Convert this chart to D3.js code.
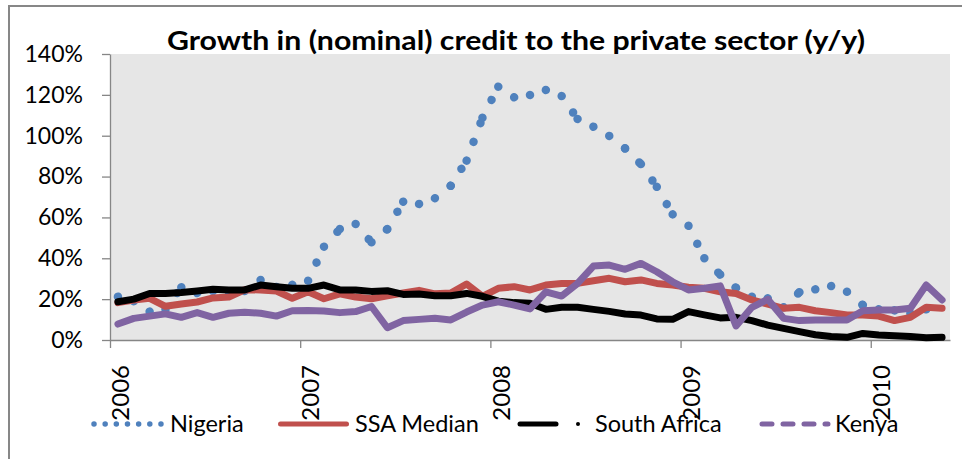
<!DOCTYPE html>
<html><head><meta charset="utf-8">
<script src="https://cdn.jsdelivr.net/npm/d3@7"></script>
<style>
body{margin:0;background:#fff}
svg{display:block}
</style>
</head><body>
<svg id="c" width="962" height="459"></svg>
<script>
// ---- data ----
const categories = [
 "2006-01","2006-02","2006-03","2006-04","2006-05","2006-06","2006-07","2006-08","2006-09","2006-10","2006-11","2006-12",
 "2007-01","2007-02","2007-03","2007-04","2007-05","2007-06","2007-07","2007-08","2007-09","2007-10","2007-11","2007-12",
 "2008-01","2008-02","2008-03","2008-04","2008-05","2008-06","2008-07","2008-08","2008-09","2008-10","2008-11","2008-12",
 "2009-01","2009-02","2009-03","2009-04","2009-05","2009-06","2009-07","2009-08","2009-09","2009-10","2009-11","2009-12",
 "2010-01","2010-02","2010-03","2010-04","2010-05"];
const yearLabels = ["2006","2007","2008","2009","2010"];
const yTicks = [0,20,40,60,80,100,120,140];
const seriesNames = ["Nigeria","SSA Median","South Africa","Kenya"];

const nigeria = [21.2,19,13.9,15,25.8,23,24,22,24,29.4,26,27,
 29,45.7,54.3,56.8,47.8,54.3,67.7,66.6,69.4,75.5,87.8,108.8,
 124,118.8,119.9,122.4,119.4,108.2,104.4,99.9,93.8,86.1,75,61.5,
 55.9,40,32,25.5,21.2,20.4,16,23.4,24.8,26.4,23.6,17.1,
 15,14.5,13,15,16];
const ssaMedian = [18.3,19.6,20.4,16.5,17.6,18.6,20.6,21,24.6,24.5,24,20.4,
 23.6,20.2,22.6,21,20.2,21.6,23,24.3,22.6,23,27.4,21.4,
 25.3,26.1,24.5,26.9,27.7,27.7,29,30.2,28.5,29.4,27.7,26.9,
 25.8,25.3,23.6,22.8,19.6,17.6,15.5,16,14.3,13.4,12.2,12.2,
 11.7,9.5,11.1,16,15.5];
const southAfrica = [18.7,20,22.8,22.8,23.3,24,24.8,24.5,24.5,26.9,26.1,25.3,
 25.3,26.9,24.5,24.5,23.8,24.1,22.3,22.5,21.7,21.7,22.8,21.4,
 19,18.3,18,15,16,16,15,14,12.7,12.2,10.3,10.1,
 13.9,12.3,10.8,11.1,9.5,7.3,5.7,4.1,2.6,1.7,1.3,3.2,
 2.5,2.1,1.7,1.1,1.3];
const kenya = [7.8,10.6,11.7,12.8,11.1,13.4,11.1,13.1,13.6,13.1,11.7,14.3,
 14.5,14.2,13.4,13.9,16.4,6,9.5,10.1,10.6,9.8,13.7,17.1,
 18.7,17.1,15.2,23.6,21.5,27.7,36.2,36.7,34.6,37.5,33.4,28.5,
 24.5,25.3,26.5,6.9,16,19.9,10.6,9.5,9.8,9.8,9.8,14.3,
 14.7,14.7,15.5,26.9,19.6];

// ---- layout ----
const L = 110, R = 950, T = 54, B = 340;
const FONT = "Lato, 'Open Sans', sans-serif";
const colors = {nigeria:"#4F81BD", ssa:"#C0504D", sa:"#000000", kenya:"#8064A2"};
const svg = d3.select("#c");

// outer chart border
svg.append("rect").attr("x",9).attr("y",6).attr("width",1000).attr("height",500)
  .attr("fill","#fff").attr("stroke","#878787").attr("stroke-width",2);

// plot area
svg.append("rect").attr("x",L).attr("y",T).attr("width",R-L).attr("height",B-T).attr("fill","#E6E6E6");

const x = d3.scaleLinear().domain([0, categories.length]).range([L, R]);
const y = d3.scaleLinear().domain([0, 140]).range([B, T]);
const px = i => x(i + 0.5);

// y axis
const gy = svg.append("g").attr("transform",`translate(${L},0)`)
  .call(d3.axisLeft(y).tickValues(yTicks).tickSize(8).tickSizeOuter(0).tickPadding(19).tickFormat(d => d + "%"));
gy.attr("font-family", FONT).attr("font-size", 23);
gy.selectAll("path,line").attr("stroke","#868686").attr("stroke-width",1.3);
gy.selectAll("text").attr("fill","#000");

// x axis
const janIdx = categories.map((c,i)=>c.endsWith("-01") ? i : -1).filter(i=>i>=0);
const gx = svg.append("g").attr("transform",`translate(0,${B})`)
  .call(d3.axisBottom(x).tickValues(janIdx).tickSize(8).tickSizeOuter(0).tickFormat((d,i)=>yearLabels[i]));
gx.attr("font-family", FONT).attr("font-size", 24);
gx.selectAll("path,line").attr("stroke","#868686").attr("stroke-width",1.3);
gx.selectAll("text").attr("fill","#000").attr("x",0).attr("y",0).attr("dy","0.36em")
  .attr("text-anchor","end").attr("transform","translate(10,25) rotate(-90)");

// series
const line = d3.line().x((d,i)=>px(i)).y(d=>y(d));
const plot = svg.append("g");

// Nigeria: round-dot line, dash pattern restarting at each segment
const nPts = nigeria.map((v,i)=>[px(i), y(v)]);
plot.append("g").selectAll("line").data(d3.pairs(nPts)).join("line")
  .attr("x1",d=>d[0][0]).attr("y1",d=>d[0][1]).attr("x2",d=>d[1][0]).attr("y2",d=>d[1][1])
  .attr("stroke",colors.nigeria).attr("stroke-width",8.5).attr("stroke-linecap","round")
  .attr("stroke-dasharray","0.01 19.99");

plot.append("path").datum(ssaMedian).attr("d",line).attr("fill","none")
  .attr("stroke",colors.ssa).attr("stroke-width",7).attr("stroke-linejoin","round").attr("stroke-linecap","round");
plot.append("path").datum(southAfrica).attr("d",line).attr("fill","none")
  .attr("stroke",colors.sa).attr("stroke-width",7).attr("stroke-linejoin","round").attr("stroke-linecap","round");
plot.append("path").datum(kenya).attr("d",line).attr("fill","none")
  .attr("stroke",colors.kenya).attr("stroke-width",7).attr("stroke-linejoin","round").attr("stroke-linecap","round");

// title
svg.append("text").attr("x",516).attr("y",50).attr("text-anchor","middle")
  .attr("font-family",FONT).attr("font-weight","bold").attr("font-size",27)
  .attr("textLength",698).attr("lengthAdjust","spacingAndGlyphs")
  .text("Growth in (nominal) credit to the private sector (y/y)");

// legend
const ly = 424;
const lg = svg.append("g").attr("font-family",FONT).attr("font-size",23.5);
lg.append("line").attr("x1",94).attr("x2",161).attr("y1",ly).attr("y2",ly)
  .attr("stroke",colors.nigeria).attr("stroke-width",5.5).attr("stroke-linecap","round").attr("stroke-dasharray","0.01 11.15");
lg.append("text").attr("x",170).attr("y",ly+7.5).text(seriesNames[0]);
lg.append("line").attr("x1",280.5).attr("x2",346.5).attr("y1",ly).attr("y2",ly)
  .attr("stroke",colors.ssa).attr("stroke-width",5).attr("stroke-linecap","round");
lg.append("text").attr("x",355).attr("y",ly+7.5).text(seriesNames[1]);
lg.append("line").attr("x1",520).attr("x2",556).attr("y1",ly).attr("y2",ly)
  .attr("stroke",colors.sa).attr("stroke-width",5).attr("stroke-linecap","round");
lg.append("circle").attr("cx",578).attr("cy",ly).attr("r",2).attr("fill",colors.sa);
lg.append("text").attr("x",595).attr("y",ly+7.5).text(seriesNames[2]);
lg.append("line").attr("x1",762).attr("x2",828).attr("y1",ly).attr("y2",ly)
  .attr("stroke",colors.kenya).attr("stroke-width",5).attr("stroke-linecap","round").attr("stroke-dasharray","10 11");
lg.append("text").attr("x",835).attr("y",ly+7.5).text(seriesNames[3]);
</script>
</body></html>
